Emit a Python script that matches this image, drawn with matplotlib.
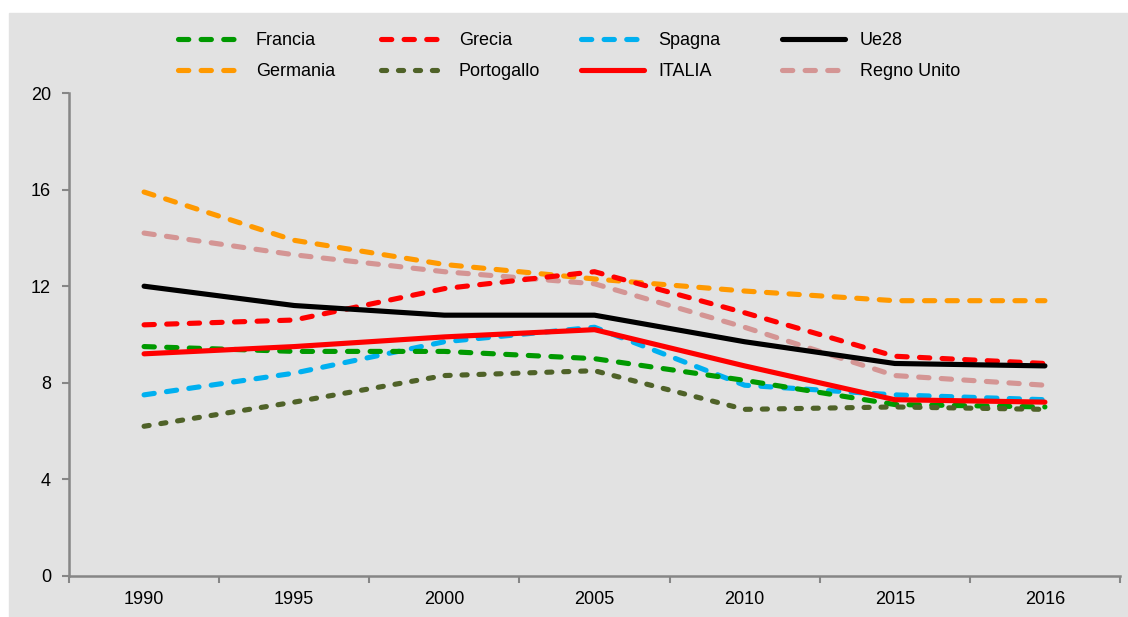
import matplotlib.pyplot as plt
from matplotlib.patches import Rectangle

plt.rcParams['font.family'] = ['Liberation Sans', 'DejaVu Sans']

anni = ['1990', '1995', '2000', '2005', '2010', '2015', '2016']

francia = [9.5, 9.3, 9.3, 9.0, 8.1, 7.1, 7.0]
germania = [15.9, 13.9, 12.9, 12.3, 11.8, 11.4, 11.4]
grecia = [10.4, 10.6, 11.9, 12.6, 10.9, 9.1, 8.8]
portogallo = [6.2, 7.2, 8.3, 8.5, 6.9, 7.0, 6.9]
spagna = [7.5, 8.4, 9.7, 10.3, 7.9, 7.5, 7.3]
italia = [9.2, 9.5, 9.9, 10.2, 8.7, 7.3, 7.2]
ue28 = [12.0, 11.2, 10.8, 10.8, 9.7, 8.8, 8.7]
regno_unito = [14.2, 13.3, 12.6, 12.1, 10.3, 8.3, 7.9]

bg = '#e2e2e2'
axcol = '#868686'
lw = 3.7
dash = (2.0, 2.4)
dash_short = (1.0, 2.3)

fig = plt.figure(figsize=(11.28, 6.17), dpi=100)
fig.patch.set_facecolor('white')
fig.patches.append(Rectangle((9 / 1128, 0), 1 - 9 / 1128, 1 - 13 / 617,
                             transform=fig.transFigure, color=bg, zorder=-10))
ax = fig.add_axes([69 / 1128, 41 / 617, (1120 - 69) / 1128, (576 - 93) / 617])
ax.set_facecolor(bg)

x = list(range(len(anni)))
kw = dict(lw=lw, dash_capstyle='round', solid_capstyle='round')
h_ru, = ax.plot(x, regno_unito, color='#d49594', dashes=dash, label='Regno Unito', **kw)
h_de, = ax.plot(x, germania, color='#ff9900', dashes=dash, label='Germania', **kw)
h_es, = ax.plot(x, spagna, color='#00b0f0', dashes=dash, label='Spagna', **kw)
h_fr, = ax.plot(x, francia, color='#009900', dashes=dash, label='Francia', **kw)
h_pt, = ax.plot(x, portogallo, color='#4f6228', dashes=dash_short, label='Portogallo', **kw)
h_gr, = ax.plot(x, grecia, color='#ff0000', dashes=dash, label='Grecia', **kw)
h_ue, = ax.plot(x, ue28, color='black', label='Ue28', **kw)
h_it, = ax.plot(x, italia, color='#ff0000', label='ITALIA', **kw)

ax.set_xlim(-0.5, len(anni) - 0.5)
ax.set_ylim(0, 20)
ax.set_yticks([0, 4, 8, 12, 16, 20])
ax.set_xticks([i - 0.5 for i in range(len(anni) + 1)])
ax.set_xticklabels([])
ax.set_xticks(x, minor=True)
ax.set_xticklabels(anni, minor=True)
ax.tick_params(axis='x', which='major', length=5, width=1.5, color=axcol, direction='out')
ax.tick_params(axis='x', which='minor', length=0, pad=11, labelsize=13)
ax.tick_params(axis='y', length=5, width=1.5, color=axcol, pad=8, labelsize=13)
for s in ['top', 'right']:
    ax.spines[s].set_visible(False)
for s in ['left', 'bottom']:
    ax.spines[s].set_color(axcol)
    ax.spines[s].set_linewidth(1.8)

# legend: four columns of two entries, placed like the original
cols = [(h_fr, h_de), (h_gr, h_pt), (h_es, h_it), (h_ue, h_ru)]
xs = [178, 381, 581, 782]
for (a, b), xp in zip(cols, xs):
    fig.legend([a, b], [a.get_label(), b.get_label()], loc='upper left',
               bbox_to_anchor=(xp / 1128, 1 - 32 / 617), bbox_transform=fig.transFigure,
               frameon=False, borderpad=0, borderaxespad=0, fontsize=13,
               handlelength=3.5, handletextpad=0.8, labelspacing=0.8)

fig.savefig('out.png', dpi=100, facecolor=fig.get_facecolor())
